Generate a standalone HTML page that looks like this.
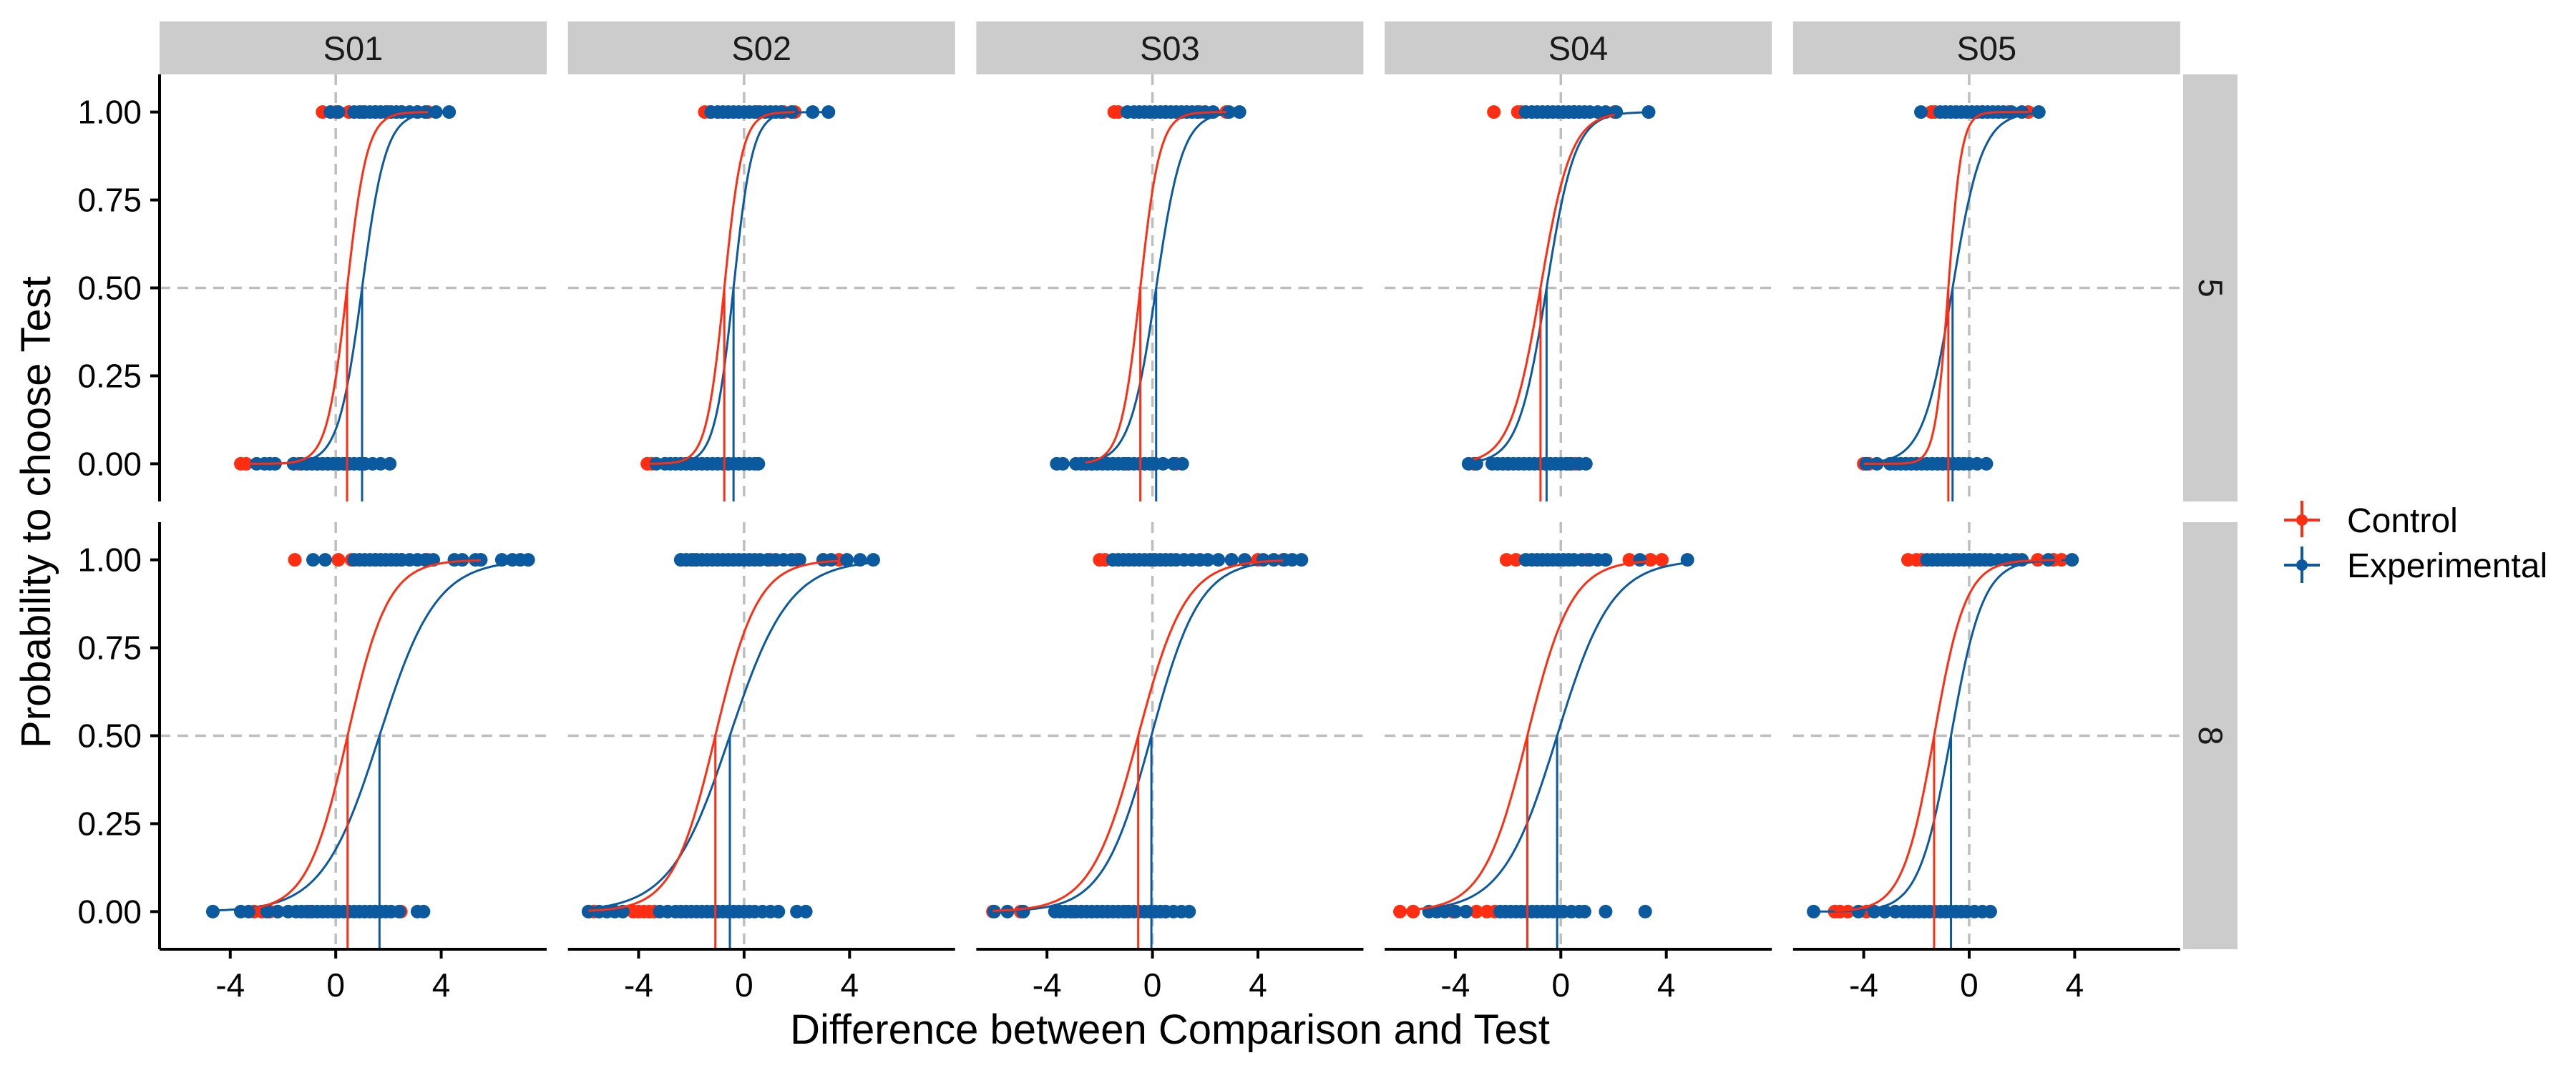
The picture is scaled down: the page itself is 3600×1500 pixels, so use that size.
<!DOCTYPE html>
<html><head><meta charset="utf-8"><style>
html,body{margin:0;padding:0;background:#fff;}
svg{display:block;font-family:"Liberation Sans",Arial,sans-serif;}
</style></head><body>
<svg id="chart" width="3600" height="1500" viewBox="0 0 3600 1500" xmlns="http://www.w3.org/2000/svg">
<rect x="0" y="0" width="3600" height="1500" fill="#fff"/>
<g id="layer"></g>
<text x="0" y="0" transform="translate(70,716) rotate(-90)" text-anchor="middle" font-size="58">Probability to choose Test</text>
<text x="1635" y="1459" text-anchor="middle" font-size="58">Difference between Comparison and Test</text>
<g>
<g>
<line x1="3192" y1="727" x2="3242" y2="727" stroke="#FF2D12" stroke-width="4"/>
<line x1="3217" y1="700" x2="3217" y2="751" stroke="#FF2D12" stroke-width="4"/>
<circle cx="3217" cy="727" r="8" fill="#FF2D12"/>
<text x="3280" y="744" font-size="48">Control</text>
</g>
<g>
<line x1="3192" y1="790" x2="3242" y2="790" stroke="#0B5AA0" stroke-width="4"/>
<line x1="3217" y1="764" x2="3217" y2="815" stroke="#0B5AA0" stroke-width="4"/>
<circle cx="3217" cy="790" r="8" fill="#0B5AA0"/>
<text x="3280" y="807" font-size="48">Experimental</text>
</g>
</g>
</svg>
<script>
// ---- data ----
const subjects = ["S01","S02","S03","S04","S05"];
const conditions = ["5","8"];
const xTicks = [-4,0,4];
const yTicks = [0,0.25,0.5,0.75,1];
const yTickLabels = ["0.00","0.25","0.50","0.75","1.00"];
// panel order: row cond 5 (S01..S05), row cond 8 (S01..S05)
const pseControl = [0.43,-0.75,-0.46,-0.77,-0.79, 0.45,-1.09,-0.54,-1.27,-1.33];
const pseExperimental = [1.0,-0.4,0.14,-0.54,-0.63, 1.66,-0.54,-0.04,-0.14,-0.69];
const spreadControl = [0.38,0.34,0.37,0.58,0.25, 0.77,0.81,0.9,0.84,0.6];
const spreadExperimental = [0.45,0.36,0.5,0.54,0.56, 1.08,1.13,0.92,1.04,0.61];
const controlZero = [
 [-3.6,-3.4,-1.4,-1.1,-0.7,-0.3,0.1,0.4],
 [-3.67,-3.5,-2.0],
 [-2.54,-2.3,-1.0,0.0,0.9],
 [-3.3,-2.0,0.3,0.55],
 [-4.0,-3.8,-2.0,-1.0],
 [-3.1,-2.8,-2.5,-2.2,-1.0,0.5,1.5,2.47],
 [-5.9,-5.7,-4.2,-4.0,-3.8,-3.6,-3.4],
 [-6.05,-5.0,-3.0,-1.0,0.5],
 [-6.1,-5.6,-4.1,-3.2,-2.8,-2.5],
 [-5.1,-4.9,-4.6,-3.9,-3.2,-2.8]
];
const controlOne = [
 [-0.5,0.0,0.5,1.0,1.5,2.0,2.5,3.1,3.5],
 [-1.49,-1.3,0.5,1.5,1.92],
 [-1.45,-1.3,0.5,1.8,2.8],
 [-2.54,-1.63,-1.5,0.5,2.04],
 [-1.43,-1.3,0.5,1.5,2.24],
 [-1.55,0.1,0.6,1.5,2.5,3.5,5.5],
 [-2.4,-1.9,1.0,2.0,3.0,3.6],
 [-2.0,-1.8,0.0,1.5,3.0,4.0,4.96],
 [-2.06,-1.7,1.0,2.6,3.4,3.83],
 [-2.32,-2.0,-1.8,1.8,2.6,3.2,3.5]
];
const experimentalZero = [
 [-3.0,-2.7,-2.5,-2.3,-1.6,-1.3,-1.1,-0.9,-0.7,-0.5,-0.3,-0.1,0.1,0.3,0.5,0.7,0.9,1.1,1.4,1.7,2.05],
 [-3.33,-3.0,-2.8,-2.6,-2.4,-2.2,-2.0,-1.8,-1.6,-1.4,-1.2,-1.0,-0.8,-0.6,-0.4,-0.2,0.0,0.2,0.4,0.54],
 [-3.63,-3.4,-2.9,-2.7,-2.5,-2.3,-2.1,-1.9,-1.7,-1.5,-1.3,-1.1,-0.9,-0.7,-0.5,-0.3,-0.1,0.1,0.4,0.8,1.13],
 [-3.5,-3.2,-2.6,-2.4,-2.2,-2.0,-1.8,-1.6,-1.4,-1.2,-1.0,-0.8,-0.6,-0.4,-0.2,0.0,0.2,0.4,0.7,0.95],
 [-3.9,-3.5,-3.0,-2.8,-2.6,-2.4,-2.2,-2.0,-1.8,-1.6,-1.4,-1.2,-1.0,-0.8,-0.6,-0.4,-0.2,0.0,0.3,0.65],
 [-4.66,-3.6,-3.3,-2.6,-2.2,-1.8,-1.5,-1.3,-1.1,-0.9,-0.7,-0.5,-0.3,-0.1,0.1,0.3,0.5,0.7,0.9,1.1,1.3,1.5,1.7,1.9,2.1,2.4,3.1,3.33],
 [-5.9,-5.5,-5.2,-4.9,-4.6,-3.2,-2.9,-2.6,-2.4,-2.2,-2.0,-1.8,-1.6,-1.4,-1.2,-1.0,-0.8,-0.6,-0.4,-0.2,0.0,0.2,0.4,0.7,1.0,1.3,2.0,2.34],
 [-6.0,-5.5,-4.9,-3.7,-3.5,-3.3,-3.1,-2.9,-2.7,-2.5,-2.3,-2.1,-1.9,-1.7,-1.5,-1.3,-1.1,-0.9,-0.7,-0.5,-0.3,-0.1,0.1,0.3,0.5,0.8,1.1,1.39],
 [-5.0,-4.7,-4.4,-4.0,-3.6,-2.3,-2.1,-1.9,-1.7,-1.5,-1.3,-1.1,-0.9,-0.7,-0.5,-0.3,-0.1,0.1,0.4,0.7,0.9,1.7,3.2],
 [-5.9,-4.2,-3.6,-3.2,-2.8,-2.5,-2.3,-2.1,-1.9,-1.7,-1.5,-1.3,-1.1,-0.9,-0.7,-0.5,-0.3,-0.1,0.2,0.5,0.8]
];
const experimentalOne = [
 [-0.2,0.1,0.7,0.9,1.1,1.3,1.5,1.7,1.9,2.1,2.3,2.5,2.8,3.1,3.4,3.8,4.3],
 [-1.25,-1.0,-0.8,-0.6,-0.4,-0.2,0.0,0.2,0.4,0.6,0.8,1.0,1.2,1.4,1.8,2.6,3.2],
 [-0.95,-0.7,-0.5,-0.3,-0.1,0.1,0.3,0.5,0.7,0.9,1.1,1.3,1.5,1.7,2.0,2.3,2.9,3.3],
 [-1.33,-1.1,-0.9,-0.7,-0.5,-0.3,-0.1,0.1,0.3,0.5,0.7,0.9,1.1,1.4,1.7,2.1,3.33],
 [-1.83,-1.1,-0.9,-0.7,-0.5,-0.3,-0.1,0.1,0.3,0.5,0.7,0.9,1.1,1.3,1.6,2.0,2.64],
 [-0.86,-0.4,0.7,0.9,1.1,1.3,1.5,1.7,1.9,2.1,2.3,2.5,2.8,3.1,3.4,3.7,4.5,4.8,5.3,5.5,6.3,6.7,7.0,7.3],
 [-2.4,-2.2,-2.0,-1.8,-1.6,-1.4,-1.2,-1.0,-0.8,-0.6,-0.4,-0.2,0.0,0.2,0.4,0.6,0.9,1.2,1.5,1.8,2.1,3.0,3.3,3.9,4.4,4.9],
 [-1.5,-1.3,-1.1,-0.9,-0.7,-0.5,-0.3,-0.1,0.1,0.3,0.5,0.7,0.9,1.2,1.5,1.8,2.1,2.5,3.0,3.5,4.2,4.6,5.0,5.3,5.65],
 [-1.33,-1.1,-0.9,-0.7,-0.5,-0.3,-0.1,0.1,0.3,0.5,0.8,1.1,1.4,1.7,3.0,4.8],
 [-1.6,-1.4,-1.2,-1.0,-0.8,-0.6,-0.4,-0.2,0.0,0.2,0.4,0.6,0.8,1.1,1.4,1.7,2.0,3.0,3.9]
];

// ---- layout ----
const NS = "http://www.w3.org/2000/svg";
const layer = document.getElementById("layer");
const RED = "#FF2D12", BLUE = "#0B5AA0";
const panelLefts = [223, 793.7, 1364.4, 1935.1, 2505.8];
const panelW = 541;
const rowTops = [104, 730];
const panelH = 597;
const X_MIN = -6.68, X_MAX = 8.0, Y_MIN = -0.107, Y_MAX = 1.107;

function xScale(p, v){ return panelLefts[p] + (v - X_MIN) / (X_MAX - X_MIN) * panelW; }
function yScale(r, v){ return rowTops[r] + (Y_MAX - v) / (Y_MAX - Y_MIN) * panelH; }
function mk(tag, attrs){
  const e = document.createElementNS(NS, tag);
  for (const k in attrs) e.setAttribute(k, attrs[k]);
  return e;
}
function logistic(x, m, s){ return 1 / (1 + Math.exp(-(x - m) / s)); }

// strips
subjects.forEach((s, c) => {
  const r = mk("rect", {x: panelLefts[c], y: 30, width: panelW, height: 74, fill: "#CCCCCC"});
  
  
  layer.appendChild(r);
  const t = mk("text", {x: panelLefts[c] + panelW / 2, y: 84, "text-anchor": "middle", "font-size": 47, fill: "#1a1a1a"});
  t.textContent = s;
  
  
  layer.appendChild(t);
});
conditions.forEach((cnd, r) => {
  const rr = mk("rect", {x: 3051, y: rowTops[r], width: 76, height: panelH, fill: "#CCCCCC"});
  
  
  layer.appendChild(rr);
  const cy = rowTops[r] + panelH / 2;
  const t = mk("text", {x: 0, y: 0, transform: "translate(3073," + cy + ") rotate(90)", "text-anchor": "middle", "font-size": 47, fill: "#1a1a1a"});
  t.textContent = cnd;
  
  
  layer.appendChild(t);
});

// panels
for (let r = 0; r < 2; r++) {
  for (let c = 0; c < 5; c++) {
    const i = r * 5 + c;
    const g = mk("g", {});
    
    
    layer.appendChild(g);
    const top = rowTops[r], bot = rowTops[r] + panelH;
    const vref = mk("line", {x1: xScale(c, 0), x2: xScale(c, 0), y1: top, y2: bot, stroke: "#BEBEBE", "stroke-width": 3.5, "stroke-dasharray": "15 10"});
    
    
    g.appendChild(vref);
    const href = mk("line", {x1: panelLefts[c], x2: panelLefts[c] + panelW, y1: yScale(r, 0.5), y2: yScale(r, 0.5), stroke: "#BEBEBE", "stroke-width": 3.5, "stroke-dasharray": "15 10"});
    
    
    g.appendChild(href);

    const groups = [
      {name: "control", col: RED, z: controlZero[i], o: controlOne[i], m: pseControl[i], s: spreadControl[i]},
      {name: "experimental", col: BLUE, z: experimentalZero[i], o: experimentalOne[i], m: pseExperimental[i], s: spreadExperimental[i]}
    ];
    groups.forEach(gr => {
      gr.z.forEach(v => {
        const p = mk("circle", {cx: xScale(c, v), cy: yScale(r, 0), r: 9.5, fill: gr.col});
        
        
        g.appendChild(p);
      });
      gr.o.forEach(v => {
        const p = mk("circle", {cx: xScale(c, v), cy: yScale(r, 1), r: 9.5, fill: gr.col});
        
        
        g.appendChild(p);
      });
    });
    [groups[1], groups[0]].forEach(gr => {
      const all = gr.z.concat(gr.o);
      const lo = Math.min(...all), hi = Math.max(...all);
      let d = "";
      for (let k = 0; k <= 200; k++) {
        const xv = lo + (hi - lo) * k / 200;
        d += (k ? "L" : "M") + xScale(c, xv).toFixed(1) + "," + yScale(r, logistic(xv, gr.m, gr.s)).toFixed(1);
      }
      const path = mk("path", {d: d, fill: "none", stroke: gr.col, "stroke-width": 3});
      
      
      g.appendChild(path);
    });
    [groups[1], groups[0]].forEach(gr => {
      const ln = mk("line", {x1: xScale(c, gr.m), x2: xScale(c, gr.m), y1: bot, y2: yScale(r, 0.5), stroke: gr.col, "stroke-width": 3});
      
      
      g.appendChild(ln);
    });

    if (c === 0) {
      const ax = mk("line", {x1: 223, x2: 223, y1: top, y2: bot, stroke: "#000", "stroke-width": 4});
      
      
      g.appendChild(ax);
      yTicks.forEach((v, k) => {
        const tk = mk("line", {x1: 210, x2: 223, y1: yScale(r, v), y2: yScale(r, v), stroke: "#000", "stroke-width": 4});
        
        
        g.appendChild(tk);
        const tl = mk("text", {x: 198, y: yScale(r, v) + 16, "text-anchor": "end", "font-size": 46, fill: "#000"});
        tl.textContent = yTickLabels[k];
        
        
        g.appendChild(tl);
      });
    }
    if (r === 1) {
      const ax = mk("line", {x1: panelLefts[c], x2: panelLefts[c] + panelW, y1: bot, y2: bot, stroke: "#000", "stroke-width": 4});
      
      
      g.appendChild(ax);
      xTicks.forEach(v => {
        const tk = mk("line", {x1: xScale(c, v), x2: xScale(c, v), y1: bot, y2: bot + 13, stroke: "#000", "stroke-width": 4});
        
        
        g.appendChild(tk);
        const tl = mk("text", {x: xScale(c, v), y: 1393, "text-anchor": "middle", "font-size": 46, fill: "#000"});
        tl.textContent = String(v);
        
        
        g.appendChild(tl);
      });
    }
  }
}
</script>
</body></html>
